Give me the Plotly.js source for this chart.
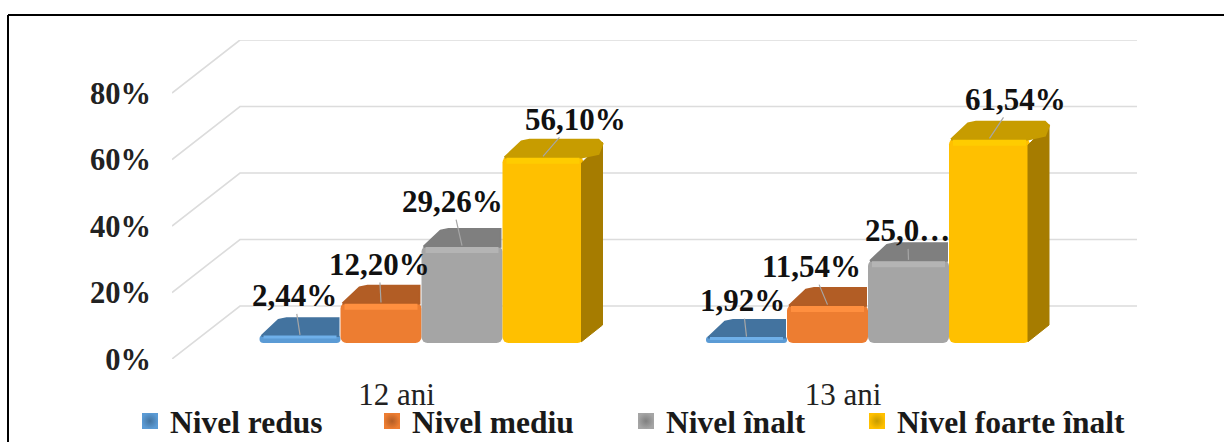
<!DOCTYPE html>
<html>
<head>
<meta charset="utf-8">
<script src="https://cdn.plot.ly/plotly-3.0.1.min.js"></script>
<style>html,body{margin:0;padding:0;background:#fff;overflow:hidden;height:442px}#c{width:1224px;height:442px;overflow:hidden}</style>
</head>
<body>
<div id="c"></div>
<script>
// ---- data ----
const categories = ['12 ani', '13 ani'];
const seriesNames = ['Nivel redus', 'Nivel mediu', 'Nivel înalt', 'Nivel foarte înalt'];
const nivelRedus = [2.44, 1.92];
const nivelMediu = [12.20, 11.54];
const nivelInalt = [29.26, 25.00];
const nivelFoarteInalt = [56.10, 61.54];
const tickValues = [0, 20, 40, 60, 80];
const tickLabels = ['0%', '20%', '40%', '60%', '80%'];
const labelTexts = [['2,44%', '1,92%'], ['12,20%', '11,54%'], ['29,26%', '25,0…'], ['56,10%', '61,54%']];

// ---- styling / projection ----
const frontColors = ['#5b9bd5', '#ed7d31', '#a5a5a5', '#ffc000'];
const topColors = ['#43739f', '#b25d25', '#7f7f7f', '#c79c00'];
const rimColors = ['#6fb0ea', '#ff8f3f', '#b4b4b4', '#ffcc00'];
const sideColor = '#a67c00';
const labelOffsets = [[[-6, -39], [-4, -36]], [[-2, -38], [-16, -38]], [[-10, -44], [-1, -29]], [[32, -37], [26, -39]]];
const W = 1224, H = 480, L = 172, R = 1137, T = 40, B = 359;
const pxPerCat = 446.5, pxPerPct = 3.325;
const xMin = -224.5 / pxPerCat, xMax = 740.5 / pxPerCat, yMax = (B - T) / pxPerPct;
const wallDx = 68 / pxPerCat, wallDy = 53 / pxPerPct;
const barShift = 25 / pxPerCat, barBase = 16 / pxPerPct;
const barW = 81 / pxPerCat, depthX = 21 / pxPerCat, depthY = 18 / pxPerPct;
const cutX = 4 / pxPerCat, cutY = 4 / pxPerPct;
const F = 'Liberation Serif, Times New Roman, serif';

const series = [nivelRedus, nivelMediu, nivelInalt, nivelFoarteInalt];
const traces = [];

// back wall and floor grid, on the main (lower) subplot
const gx = [], gy = [];
tickValues.forEach(v => {
  gx.push(xMin, xMin + wallDx, xMax, null);
  gy.push(v, v + wallDy, v + wallDy, null);
});
traces.push({type: 'scatter', mode: 'lines', x: gx, y: gy, cliponaxis: false, showlegend: false,
  hoverinfo: 'skip', line: {color: '#dcdcdc', width: 1.6}});

// bar front faces
series.forEach((vals, s) => {
  traces.push({type: 'bar', name: seriesNames[s], xaxis: 'x2', yaxis: 'y2', showlegend: false,
    x: categories.map((c, i) => i + barShift + (s - 1.5) * barW),
    y: vals, base: vals.map(() => barBase), width: barW,
    marker: {color: frontColors[s], cornerradius: 6, line: {width: 0}}, hoverinfo: 'y'});
});

// top faces (clipped behind the next, taller bar) and side face, through the same axes
series.forEach((vals, s) => {
  vals.forEach((v, i) => {
    const xl = i + barShift + (s - 1.5) * barW - barW / 2, xr = xl + barW, t = barBase + v;
    const last = s === series.length - 1;
    const inset = 2 / pxPerCat;
    const bk = t + depthY - 0.4;
    const endX = xr + (last ? depthX - inset : -inset);
    if (last) {
      traces.push({type: 'scatter', mode: 'lines', xaxis: 'x2', yaxis: 'y2', showlegend: false, hoverinfo: 'skip',
        x: [xr - inset, xr + depthX - inset, xr + depthX - inset, xr - inset, xr - inset],
        y: [barBase + 0.4, barBase + depthY, t + depthY - cutY, t - 2, barBase + 0.4],
        fill: 'toself', fillcolor: sideColor, line: {color: sideColor, width: 1}});
    }
    traces.push({type: 'scatter', mode: 'lines', xaxis: 'x2', yaxis: 'y2', showlegend: false, hoverinfo: 'skip',
      x: last
        ? [xl + inset, xl + depthX + inset - cutX, xl + depthX + inset + cutX, endX - cutX, endX, endX - cutX, xr - inset, xl + inset]
        : [xl + inset, xl + depthX + inset - cutX, xl + depthX + inset + cutX, endX, xr - inset, xl + inset],
      y: last
        ? [t - 0.3, bk - cutY * 0.4, bk, bk, bk - cutY, t + depthY * 0.15, t - 0.3, t - 0.3]
        : [t - 0.3, bk - cutY * 0.4, bk, bk, t - 0.3, t - 0.3],
      fill: 'toself', fillcolor: topColors[s], line: {color: topColors[s], width: 2}});
    // lighter rim along the top of the front face
    traces.push({type: 'scatter', mode: 'lines', xaxis: 'x2', yaxis: 'y2', showlegend: false, hoverinfo: 'skip',
      x: [xl + inset * 2, xr - inset * 2],
      y: [t - (v < 4 ? 0.6 : 1.3), t - (v < 4 ? 0.6 : 1.3)],
      line: {color: rimColors[s], width: v < 4 ? 3 : 6}});
  });
});

// legend entries
const legendX = [130, 372, 626, 857];
const layoutLegends = {};
seriesNames.forEach((n, s) => {
  const key = s === 0 ? 'legend' : 'legend' + (s + 1);
  traces.push({type: 'scatter', mode: 'markers', name: n, legend: key, x: [null], y: [null],
    marker: {symbol: 'square', size: 17, color: frontColors[s],
      gradient: {type: 'radial', color: topColors[s]}}, hoverinfo: 'skip'});
  layoutLegends[key] = {
    x: (legendX[s] - L) / (R - L), y: (B - 421) / (B - T), xanchor: 'left', yanchor: 'middle',
    bgcolor: 'rgba(0,0,0,0)', borderwidth: 0, itemclick: false, itemdoubleclick: false,
    font: {family: F, size: 31.5, color: '#1a1a1a', weight: 'bold'}
  };
});

// data labels with leader lines
const annotations = [];
series.forEach((vals, s) => vals.forEach((v, i) => {
  annotations.push({
    xref: 'x', yref: 'y', x: i + barShift + (s - 1.5) * barW, y: barBase + v,
    text: '<b>' + labelTexts[s][i] + '</b>', showarrow: true, arrowhead: 0, arrowwidth: 1.2, arrowcolor: '#a6a6a6',
    ax: labelOffsets[s][i][0], ay: labelOffsets[s][i][1], xanchor: 'center', yanchor: 'middle',
    font: {family: F, size: 31, color: '#111'}, borderpad: 0, standoff: 0
  });
}));

const layout = Object.assign({
  width: W, height: H, paper_bgcolor: '#fff', plot_bgcolor: '#fff',
  margin: {l: L, r: W - R, t: T, b: H - B, pad: 0},
  barmode: 'overlay', showlegend: true, hovermode: false,
  xaxis: {type: 'linear', range: [xMin, xMax], tickmode: 'array', tickvals: [0, 1], ticktext: categories,
    showgrid: false, zeroline: false, showline: false, ticks: '', ticklabelstandoff: 14,
    tickfont: {family: F, size: 31, color: '#222'}, fixedrange: true},
  yaxis: {range: [0, yMax], tickmode: 'array', tickvals: tickValues, ticktext: tickLabels,
    showgrid: false, zeroline: false, showline: false, ticks: '', ticklabelstandoff: 20,
    tickfont: {family: F, size: 30.5, color: '#222', weight: 'bold'}, fixedrange: true},
  xaxis2: {overlaying: 'x', matches: 'x', visible: false, fixedrange: true},
  yaxis2: {overlaying: 'y', matches: 'y', visible: false, fixedrange: true},
  annotations,
  shapes: [
    {type: 'line', xref: 'paper', yref: 'paper', x0: (8 - L) / (R - L), x1: (W - L) / (R - L),
      y0: (B - 15) / (B - T), y1: (B - 15) / (B - T), line: {color: '#000', width: 2}},
    {type: 'line', xref: 'paper', yref: 'paper', x0: (8 - L) / (R - L), x1: (8 - L) / (R - L),
      y0: (B - 15) / (B - T), y1: (B - H) / (B - T), line: {color: '#000', width: 2}}
  ]
}, layoutLegends);

Plotly.newPlot('c', traces, layout, {displayModeBar: false, staticPlot: true});
</script>
</body>
</html>
